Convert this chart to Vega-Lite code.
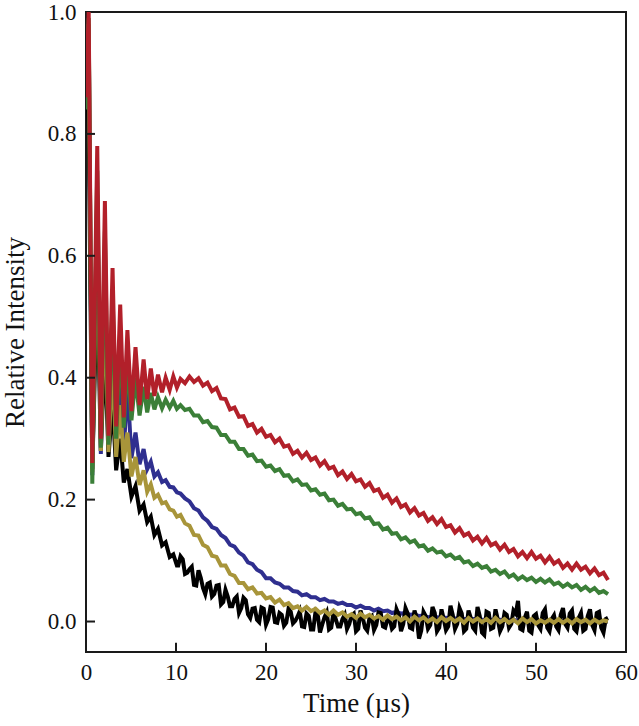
{
  "$schema": "https://vega.github.io/schema/vega-lite/v6.json",
  "width": 540,
  "height": 640,
  "autosize": "none",
  "padding": {"left": 86, "top": 12, "right": 13, "bottom": 74},
  "background": "white",
  "config": {
    "view": {"stroke": "#1a1a1a", "strokeWidth": 2},
    "font": "Liberation Serif",
    "axis": {
      "grid": false,
      "domain": false,
      "ticks": false,
      "labelFont": "Liberation Serif",
      "labelFontSize": 23,
      "labelColor": "#111",
      "titleFont": "Liberation Serif",
      "titleFontSize": 27,
      "titleFontWeight": "normal",
      "titleColor": "#111"
    }
  },
  "layer": [
    {
      "data": {
        "values": [
          {"t": 0, "r": 0.86, "g": 0.84, "b": 0.85, "y": 0.86, "k": 0.93},
          {"t": 0.3, "r": 1.0, "g": 0.99, "b": 0.97, "y": 0.98, "k": 0.81},
          {"t": 0.7, "r": 0.26, "g": 0.226, "b": 0.24, "y": 0.245, "k": 0.25},
          {"t": 1.25, "r": 0.78, "g": 0.74, "b": 0.7, "y": 0.68, "k": 0.56},
          {"t": 1.65, "r": 0.3, "g": 0.285, "b": 0.275, "y": 0.28, "k": 0.28},
          {"t": 2.1, "r": 0.69, "g": 0.64, "b": 0.56, "y": 0.54, "k": 0.45},
          {"t": 2.5, "r": 0.305, "g": 0.29, "b": 0.28, "y": 0.278, "k": 0.27},
          {"t": 2.95, "r": 0.58, "g": 0.54, "b": 0.46, "y": 0.43, "k": 0.36},
          {"t": 3.35, "r": 0.32, "g": 0.3, "b": 0.285, "y": 0.27, "k": 0.248},
          {"t": 3.8, "r": 0.52, "g": 0.47, "b": 0.41, "y": 0.355, "k": 0.3},
          {"t": 4.2, "r": 0.335, "g": 0.318, "b": 0.28, "y": 0.262, "k": 0.228},
          {"t": 4.6, "r": 0.478, "g": 0.43, "b": 0.39, "y": 0.31, "k": 0.25},
          {"t": 5.05, "r": 0.345, "g": 0.33, "b": 0.268, "y": 0.238, "k": 0.205},
          {"t": 5.5, "r": 0.45, "g": 0.4, "b": 0.31, "y": 0.27, "k": 0.222},
          {"t": 5.95, "r": 0.355, "g": 0.338, "b": 0.258, "y": 0.224, "k": 0.182},
          {"t": 6.4, "r": 0.43, "g": 0.385, "b": 0.283, "y": 0.248, "k": 0.192},
          {"t": 6.8, "r": 0.365, "g": 0.343, "b": 0.25, "y": 0.213, "k": 0.163},
          {"t": 7.2, "r": 0.415, "g": 0.375, "b": 0.262, "y": 0.225, "k": 0.172},
          {"t": 7.6, "r": 0.37, "g": 0.348, "b": 0.238, "y": 0.203, "k": 0.142},
          {"t": 8.0, "r": 0.405, "g": 0.368, "b": 0.245, "y": 0.208, "k": 0.152},
          {"t": 8.45, "r": 0.376, "g": 0.35, "b": 0.229, "y": 0.194, "k": 0.125},
          {"t": 8.85, "r": 0.4, "g": 0.364, "b": 0.232, "y": 0.196, "k": 0.13},
          {"t": 9.3, "r": 0.38, "g": 0.351, "b": 0.221, "y": 0.184, "k": 0.106},
          {"t": 9.7, "r": 0.402, "g": 0.362, "b": 0.22, "y": 0.182, "k": 0.11},
          {"t": 10.1, "r": 0.384, "g": 0.349, "b": 0.212, "y": 0.172, "k": 0.092},
          {"t": 10.5, "r": 0.398, "g": 0.355, "b": 0.21, "y": 0.175, "k": 0.107},
          {"t": 11, "r": 0.391, "g": 0.347, "b": 0.202, "y": 0.161, "k": 0.078},
          {"t": 11.5, "r": 0.402, "g": 0.349, "b": 0.197, "y": 0.157, "k": 0.086},
          {"t": 12, "r": 0.393, "g": 0.338, "b": 0.186, "y": 0.142, "k": 0.06},
          {"t": 12.5, "r": 0.399, "g": 0.338, "b": 0.182, "y": 0.141, "k": 0.084},
          {"t": 13, "r": 0.387, "g": 0.327, "b": 0.171, "y": 0.126, "k": 0.055},
          {"t": 13.5, "r": 0.392, "g": 0.329, "b": 0.165, "y": 0.122, "k": 0.062},
          {"t": 14, "r": 0.378, "g": 0.319, "b": 0.155, "y": 0.108, "k": 0.041},
          {"t": 14.5, "r": 0.383, "g": 0.318, "b": 0.152, "y": 0.106, "k": 0.059},
          {"t": 15, "r": 0.366, "g": 0.306, "b": 0.142, "y": 0.092, "k": 0.028},
          {"t": 15.5, "r": 0.365, "g": 0.306, "b": 0.137, "y": 0.092, "k": 0.052},
          {"t": 16, "r": 0.348, "g": 0.295, "b": 0.126, "y": 0.078, "k": 0.025},
          {"t": 16.5, "r": 0.351, "g": 0.295, "b": 0.123, "y": 0.075, "k": 0.037},
          {"t": 17, "r": 0.336, "g": 0.283, "b": 0.113, "y": 0.063, "k": 0.014},
          {"t": 17.5, "r": 0.337, "g": 0.283, "b": 0.108, "y": 0.063, "k": 0.039},
          {"t": 18, "r": 0.321, "g": 0.272, "b": 0.097, "y": 0.053, "k": 0.012},
          {"t": 18.5, "r": 0.324, "g": 0.274, "b": 0.094, "y": 0.056, "k": 0.021},
          {"t": 19, "r": 0.31, "g": 0.263, "b": 0.085, "y": 0.046, "k": 0.003},
          {"t": 19.5, "r": 0.316, "g": 0.264, "b": 0.081, "y": 0.047, "k": 0.023},
          {"t": 20, "r": 0.303, "g": 0.254, "b": 0.071, "y": 0.038, "k": -0.005},
          {"t": 20.5, "r": 0.306, "g": 0.256, "b": 0.071, "y": 0.04, "k": 0.024},
          {"t": 21, "r": 0.294, "g": 0.247, "b": 0.064, "y": 0.031, "k": -0.001},
          {"t": 21.5, "r": 0.3, "g": 0.25, "b": 0.062, "y": 0.036, "k": 0.014},
          {"t": 22, "r": 0.287, "g": 0.239, "b": 0.056, "y": 0.027, "k": -0.007},
          {"t": 22.5, "r": 0.289, "g": 0.24, "b": 0.056, "y": 0.03, "k": 0.021},
          {"t": 23, "r": 0.275, "g": 0.23, "b": 0.05, "y": 0.022, "k": -0.003},
          {"t": 23.5, "r": 0.28, "g": 0.233, "b": 0.049, "y": 0.025, "k": 0.008},
          {"t": 24, "r": 0.269, "g": 0.224, "b": 0.043, "y": 0.018, "k": -0.008},
          {"t": 24.5, "r": 0.277, "g": 0.225, "b": 0.045, "y": 0.024, "k": 0.013},
          {"t": 25, "r": 0.265, "g": 0.215, "b": 0.04, "y": 0.017, "k": -0.013},
          {"t": 25.5, "r": 0.269, "g": 0.217, "b": 0.04, "y": 0.021, "k": 0.016},
          {"t": 26, "r": 0.256, "g": 0.208, "b": 0.035, "y": 0.014, "k": -0.018},
          {"t": 26.5, "r": 0.263, "g": 0.21, "b": 0.037, "y": 0.018, "k": 0.007},
          {"t": 27, "r": 0.251, "g": 0.199, "b": 0.033, "y": 0.011, "k": -0.013},
          {"t": 27.5, "r": 0.254, "g": 0.2, "b": 0.033, "y": 0.018, "k": 0.015},
          {"t": 28, "r": 0.24, "g": 0.19, "b": 0.029, "y": 0.011, "k": -0.008},
          {"t": 28.5, "r": 0.246, "g": 0.193, "b": 0.031, "y": 0.015, "k": 0.004},
          {"t": 29, "r": 0.234, "g": 0.184, "b": 0.027, "y": 0.008, "k": -0.012},
          {"t": 29.5, "r": 0.242, "g": 0.185, "b": 0.027, "y": 0.012, "k": 0.01},
          {"t": 30, "r": 0.23, "g": 0.176, "b": 0.023, "y": 0.006, "k": -0.016},
          {"t": 30.5, "r": 0.233, "g": 0.178, "b": 0.026, "y": 0.013, "k": 0.018},
          {"t": 31, "r": 0.221, "g": 0.169, "b": 0.022, "y": 0.007, "k": -0.01},
          {"t": 31.5, "r": 0.227, "g": 0.171, "b": 0.022, "y": 0.011, "k": 0.006},
          {"t": 32, "r": 0.214, "g": 0.16, "b": 0.018, "y": 0.005, "k": -0.014},
          {"t": 32.5, "r": 0.217, "g": 0.161, "b": 0.021, "y": 0.009, "k": 0.015},
          {"t": 33, "r": 0.203, "g": 0.151, "b": 0.017, "y": 0.003, "k": -0.008},
          {"t": 33.5, "r": 0.208, "g": 0.154, "b": 0.018, "y": 0.01, "k": 0.004},
          {"t": 34, "r": 0.195, "g": 0.144, "b": 0.014, "y": 0.004, "k": -0.012},
          {"t": 34.5, "r": 0.202, "g": 0.145, "b": 0.016, "y": 0.008, "k": 0.02},
          {"t": 35, "r": 0.188, "g": 0.135, "b": 0.013, "y": 0.002, "k": -0.016},
          {"t": 35.5, "r": 0.192, "g": 0.138, "b": 0.014, "y": 0.007, "k": 0.022},
          {"t": 36, "r": 0.179, "g": 0.13, "b": 0.011, "y": 0.0, "k": -0.01},
          {"t": 36.5, "r": 0.186, "g": 0.133, "b": 0.012, "y": 0.008, "k": 0.018},
          {"t": 37, "r": 0.174, "g": 0.123, "b": 0.009, "y": 0.002, "k": -0.028},
          {"t": 37.5, "r": 0.178, "g": 0.125, "b": 0.01, "y": 0.007, "k": 0.016},
          {"t": 38, "r": 0.165, "g": 0.116, "b": 0.007, "y": 0.0, "k": -0.012},
          {"t": 38.5, "r": 0.171, "g": 0.12, "b": 0.008, "y": 0.005, "k": 0.024},
          {"t": 39, "r": 0.16, "g": 0.113, "b": 0.007, "y": -0.001, "k": -0.016},
          {"t": 39.5, "r": 0.168, "g": 0.115, "b": 0.006, "y": 0.007, "k": 0.02},
          {"t": 40, "r": 0.155, "g": 0.107, "b": 0.006, "y": 0.001, "k": -0.014},
          {"t": 40.5, "r": 0.158, "g": 0.11, "b": 0.005, "y": 0.006, "k": 0.026},
          {"t": 41, "r": 0.146, "g": 0.103, "b": 0.005, "y": 0.0, "k": -0.012},
          {"t": 41.5, "r": 0.153, "g": 0.106, "b": 0.005, "y": 0.005, "k": 0.022},
          {"t": 42, "r": 0.141, "g": 0.097, "b": 0.004, "y": -0.002, "k": -0.016},
          {"t": 42.5, "r": 0.145, "g": 0.099, "b": 0.004, "y": 0.006, "k": 0.018},
          {"t": 43, "r": 0.133, "g": 0.091, "b": 0.004, "y": 0.0, "k": -0.01},
          {"t": 43.5, "r": 0.139, "g": 0.095, "b": 0.004, "y": 0.005, "k": 0.024},
          {"t": 44, "r": 0.128, "g": 0.088, "b": 0.003, "y": -0.001, "k": -0.018},
          {"t": 44.5, "r": 0.137, "g": 0.091, "b": 0.003, "y": 0.004, "k": 0.016},
          {"t": 45, "r": 0.125, "g": 0.082, "b": 0.003, "y": -0.002, "k": -0.012},
          {"t": 45.5, "r": 0.129, "g": 0.085, "b": 0.003, "y": 0.006, "k": 0.02},
          {"t": 46, "r": 0.118, "g": 0.078, "b": 0.003, "y": -0.001, "k": -0.016},
          {"t": 46.5, "r": 0.126, "g": 0.082, "b": 0.002, "y": 0.004, "k": 0.014},
          {"t": 47, "r": 0.114, "g": 0.073, "b": 0.002, "y": -0.002, "k": -0.01},
          {"t": 47.5, "r": 0.119, "g": 0.077, "b": 0.002, "y": 0.003, "k": 0.018},
          {"t": 48, "r": 0.107, "g": 0.069, "b": 0.002, "y": -0.003, "k": 0.034},
          {"t": 48.5, "r": 0.114, "g": 0.074, "b": 0.002, "y": 0.005, "k": -0.014},
          {"t": 49, "r": 0.104, "g": 0.068, "b": 0.002, "y": -0.001, "k": 0.016},
          {"t": 49.5, "r": 0.114, "g": 0.072, "b": 0.002, "y": 0.004, "k": -0.018},
          {"t": 50, "r": 0.103, "g": 0.065, "b": 0.002, "y": -0.003, "k": 0.012},
          {"t": 50.5, "r": 0.108, "g": 0.07, "b": 0.001, "y": 0.002, "k": -0.012},
          {"t": 51, "r": 0.097, "g": 0.064, "b": 0.001, "y": -0.002, "k": 0.02},
          {"t": 51.5, "r": 0.106, "g": 0.069, "b": 0.001, "y": 0.003, "k": -0.016},
          {"t": 52, "r": 0.095, "g": 0.061, "b": 0.001, "y": -0.002, "k": 0.01},
          {"t": 52.5, "r": 0.1, "g": 0.064, "b": 0.001, "y": 0.004, "k": -0.014},
          {"t": 53, "r": 0.088, "g": 0.057, "b": 0.001, "y": -0.002, "k": 0.022},
          {"t": 53.5, "r": 0.095, "g": 0.062, "b": 0.001, "y": 0.003, "k": -0.01},
          {"t": 54, "r": 0.085, "g": 0.056, "b": 0.001, "y": -0.003, "k": 0.018},
          {"t": 54.5, "r": 0.095, "g": 0.06, "b": 0.001, "y": 0.004, "k": -0.016},
          {"t": 55, "r": 0.085, "g": 0.052, "b": 0.001, "y": -0.001, "k": 0.014},
          {"t": 55.5, "r": 0.09, "g": 0.057, "b": 0.001, "y": 0.003, "k": -0.012},
          {"t": 56, "r": 0.079, "g": 0.05, "b": 0.001, "y": -0.003, "k": 0.02},
          {"t": 56.5, "r": 0.087, "g": 0.055, "b": 0.0, "y": 0.003, "k": -0.014},
          {"t": 57, "r": 0.076, "g": 0.047, "b": 0.0, "y": -0.002, "k": 0.016},
          {"t": 57.5, "r": 0.08, "g": 0.05, "b": 0.0, "y": 0.002, "k": -0.018},
          {"t": 58, "r": 0.068, "g": 0.045, "b": 0.0, "y": 0.0, "k": 0.006},
          {"t": 10.25, "k": 0.092}, {"t": 10.75, "k": 0.102}, {"t": 11.25, "k": 0.08}, {"t": 11.75, "k": 0.09},
          {"t": 12.25, "k": 0.059}, {"t": 12.75, "k": 0.072}, {"t": 13.25, "k": 0.045}, {"t": 13.75, "k": 0.064},
          {"t": 14.25, "k": 0.045}, {"t": 14.75, "k": 0.06}, {"t": 15.25, "k": 0.032}, {"t": 15.75, "k": 0.041},
          {"t": 16.25, "k": 0.025}, {"t": 16.75, "k": 0.041}, {"t": 17.25, "k": 0.022}, {"t": 17.75, "k": 0.035},
          {"t": 18.25, "k": 0.006}, {"t": 18.75, "k": 0.022}, {"t": 19.25, "k": -0.001}, {"t": 19.75, "k": 0.021},
          {"t": 20.25, "k": 0.004}, {"t": 20.75, "k": 0.023}, {"t": 21.25, "k": -0.002}, {"t": 21.75, "k": 0.011},
          {"t": 22.25, "k": -0.002}, {"t": 22.75, "k": 0.016}, {"t": 23.25, "k": 0.001}, {"t": 23.75, "k": 0.017},
          {"t": 24.25, "k": -0.009}, {"t": 24.75, "k": 0.009}, {"t": 25.25, "k": -0.013}, {"t": 25.75, "k": 0.011},
          {"t": 26.25, "k": -0.005}, {"t": 26.75, "k": 0.015}, {"t": 27.25, "k": -0.01}, {"t": 27.75, "k": 0.004},
          {"t": 28.25, "k": -0.008}, {"t": 28.75, "k": 0.011}, {"t": 29.25, "k": -0.004}, {"t": 29.75, "k": 0.013},
          {"t": 30.25, "k": -0.012}, {"t": 30.75, "k": 0.006}, {"t": 31.25, "k": -0.015}, {"t": 31.75, "k": 0.009},
          {"t": 32.25, "k": -0.006}, {"t": 32.75, "k": 0.014}, {"t": 33.25, "k": -0.01}, {"t": 33.75, "k": 0.004},
          {"t": 34.25, "k": -0.008}, {"t": 34.75, "k": 0.011}, {"t": 35.25, "k": -0.004}, {"t": 35.75, "k": 0.013},
          {"t": 36.25, "k": -0.012}, {"t": 36.75, "k": 0.006}, {"t": 37.25, "k": -0.015}, {"t": 37.75, "k": 0.009},
          {"t": 38.25, "k": -0.006}, {"t": 38.75, "k": 0.014}, {"t": 39.25, "k": -0.01}, {"t": 39.75, "k": 0.004},
          {"t": 40.25, "k": -0.008}, {"t": 40.75, "k": 0.011}, {"t": 41.25, "k": -0.004}, {"t": 41.75, "k": 0.013},
          {"t": 42.25, "k": -0.012}, {"t": 42.75, "k": 0.006}, {"t": 43.25, "k": -0.015}, {"t": 43.75, "k": 0.009},
          {"t": 44.25, "k": -0.022}, {"t": 44.75, "k": 0.014}, {"t": 45.25, "k": -0.01}, {"t": 45.75, "k": 0.004},
          {"t": 46.25, "k": -0.008}, {"t": 46.75, "k": 0.011}, {"t": 47.25, "k": -0.004}, {"t": 47.75, "k": 0.013},
          {"t": 48.25, "k": -0.012}, {"t": 48.75, "k": 0.006}, {"t": 49.25, "k": -0.015}, {"t": 49.75, "k": 0.009},
          {"t": 50.25, "k": -0.006}, {"t": 50.75, "k": 0.014}, {"t": 51.25, "k": -0.01}, {"t": 51.75, "k": 0.004},
          {"t": 52.25, "k": -0.008}, {"t": 52.75, "k": 0.011}, {"t": 53.25, "k": -0.004}, {"t": 53.75, "k": 0.013},
          {"t": 54.25, "k": -0.012}, {"t": 54.75, "k": 0.006}, {"t": 55.25, "k": -0.015}, {"t": 55.75, "k": 0.009},
          {"t": 56.25, "k": -0.006}, {"t": 56.75, "k": 0.014}, {"t": 57.25, "k": -0.01}, {"t": 57.75, "k": 0.004}
        ]
      },
      "transform": [
        {"fold": ["b", "k", "y", "g", "r"], "as": ["series", "value"]},
        {"filter": "isValid(datum.value)"}
      ],
      "mark": {"type": "line", "strokeWidth": 4, "clip": true, "strokeJoin": "miter"},
      "encoding": {
        "x": {
          "field": "t",
          "type": "quantitative",
          "title": "Time (µs)",
          "scale": {"domain": [0, 60], "nice": false},
          "axis": {
            "values": [0, 10, 20, 30, 40, 50, 60],
            "labelPadding": 9,
            "labelFlush": false,
            "titlePadding": 6
          }
        },
        "y": {
          "field": "value",
          "type": "quantitative",
          "title": "Relative Intensity",
          "scale": {"domain": [-0.05, 1.0], "nice": false, "zero": false},
          "axis": {
            "values": [0, 0.2, 0.4, 0.6, 0.8, 1.0],
            "format": ".1f",
            "labelPadding": 10,
            "titlePadding": 18
          }
        },
        "color": {
          "field": "series",
          "type": "nominal",
          "scale": {
            "domain": ["b", "k", "y", "g", "r"],
            "range": ["#2f2f8f", "#000000", "#a8953a", "#3b7f38", "#b2202a"]
          },
          "legend": null
        }
      }
    },
    {
      "data": {"values": [{"v": 10}, {"v": 20}, {"v": 30}, {"v": 40}, {"v": 50}]},
      "mark": {"type": "rule", "color": "#1a1a1a", "strokeWidth": 2},
      "encoding": {
        "x": {"field": "v", "type": "quantitative", "title": "Time (µs)"},
        "y": {"datum": -0.05},
        "y2": {"datum": -0.035}
      }
    },
    {
      "data": {"values": [{"v": 0}, {"v": 0.2}, {"v": 0.4}, {"v": 0.6}, {"v": 0.8}]},
      "mark": {"type": "rule", "color": "#1a1a1a", "strokeWidth": 2},
      "encoding": {
        "y": {"field": "v", "type": "quantitative", "title": "Relative Intensity"},
        "x": {"datum": 0},
        "x2": {"datum": 1.0}
      }
    }
  ]
}
